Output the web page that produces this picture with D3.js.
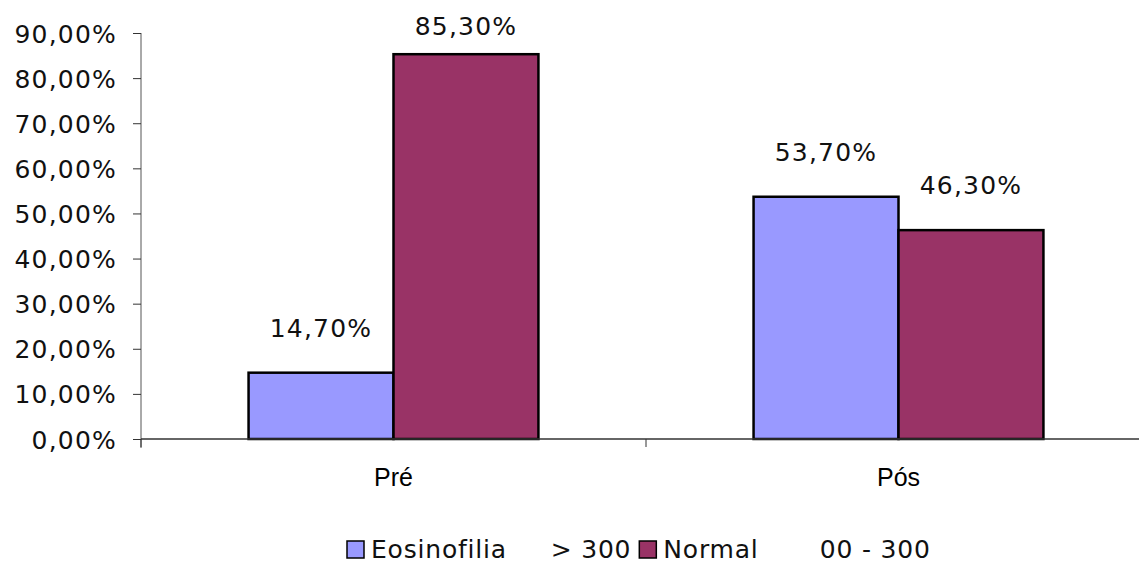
<!DOCTYPE html>
<html>
<head>
<meta charset="utf-8">
<script src="https://cdn.jsdelivr.net/npm/d3@7"></script>
<style>
  html, body { margin: 0; padding: 0; background: #fff; }
  svg { display: block; }
</style>
</head>
<body>
<svg id="chart" width="1139" height="563"></svg>
<script>
// Grupos e séries
const categories = ["Pré", "Pós"];
const seriesNames = ["Eosinofilia     > 300", "Normal       00 - 300"];
const eosinofilia = [14.7, 53.7];
const normal = [85.3, 46.3];
const yTicks = [0, 10, 20, 30, 40, 50, 60, 70, 80, 90];
const colors = ["#9999FF", "#993366"];

const series = [eosinofilia, normal];
const fmt = v => d3.format(".2f")(v).replace(".", ",") + "%";

const svg = d3.select("#chart");
const plotLeft = 141, plotRight = 1151, plotTop = 33, plotBottom = 439;

const x = d3.scaleBand().domain(categories).range([plotLeft, plotRight]).paddingInner(0).paddingOuter(0);
const y = d3.scaleLinear().domain([0, 90]).range([plotBottom, plotTop]);
const bandW = x.bandwidth();
const barW = bandW * 0.287;
const xs = d3.scaleBand().domain(d3.range(series.length)).range([0, barW * series.length]);

const valueFont = "'DejaVu Sans', Verdana, sans-serif";

// Eixo Y
const yAxis = svg.append("g").attr("transform", `translate(${plotLeft},0)`)
  .call(d3.axisLeft(y).tickValues(yTicks).tickSize(8).tickPadding(16).tickFormat(fmt));
yAxis.select(".domain").attr("stroke", "#555").attr("d", `M0,${plotTop}V${plotBottom + 9}`);
yAxis.selectAll(".tick line").attr("stroke", "#333");
yAxis.selectAll(".tick text")
  .attr("font-family", valueFont).attr("font-size", 25).attr("letter-spacing", 1.2)
  .attr("fill", "#111").attr("dy", "0.36em");

// Barras
categories.forEach((c, ci) => {
  const x0 = x(c) + bandW / 2 - barW;
  series.forEach((s, si) => {
    svg.append("rect")
      .attr("x", x0 + xs(si))
      .attr("y", y(s[ci]))
      .attr("width", xs.bandwidth())
      .attr("height", y(0) - y(s[ci]))
      .attr("fill", colors[si])
      .attr("stroke", "#000")
      .attr("stroke-width", 2.5);
  });
});

// Eixo X
const xAxisG = svg.append("g");
xAxisG.append("line").attr("x1", plotLeft).attr("x2", 1139).attr("y1", plotBottom).attr("y2", plotBottom)
  .attr("stroke", "#333").attr("stroke-width", 1.5);
[plotLeft, x(categories[1]), plotRight].forEach(t => {
  xAxisG.append("line").attr("x1", t).attr("x2", t).attr("y1", plotBottom).attr("y2", plotBottom + 8)
    .attr("stroke", "#333");
});
categories.forEach(c => {
  svg.append("text")
    .attr("x", x(c) + bandW / 2).attr("y", 486)
    .attr("text-anchor", "middle")
    .attr("font-family", "'Liberation Sans', Arial, sans-serif")
    .attr("font-size", 25)
    .attr("fill", "#000")
    .text(c);
});

// Rótulos de valor
categories.forEach((c, ci) => {
  const x0 = x(c) + bandW / 2 - barW;
  series.forEach((s, si) => {
    const baseline = Math.max(y(s[ci]) - 36, 35);
    svg.append("text")
      .attr("x", x0 + xs(si) + xs.bandwidth() / 2)
      .attr("y", baseline)
      .attr("text-anchor", "middle")
      .attr("font-family", valueFont).attr("font-size", 25).attr("letter-spacing", 1.2)
      .attr("fill", "#111")
      .text(fmt(s[ci]));
  });
});

// Legenda
const legend = svg.append("g");
let lx = 347;
seriesNames.forEach((name, i) => {
  legend.append("rect")
    .attr("x", lx).attr("y", 541).attr("width", 17).attr("height", 17)
    .attr("fill", colors[i]).attr("stroke", "#000").attr("stroke-width", 1.5);
  const t = legend.append("text")
    .attr("x", lx + 24).attr("y", 558)
    .attr("font-family", valueFont).attr("font-size", 25).attr("letter-spacing", 0.8)
    .attr("fill", "#111")
    .style("white-space", "pre")
    .text(name);
  lx += 24 + t.node().getComputedTextLength() + 8;
});
</script>
</body>
</html>
